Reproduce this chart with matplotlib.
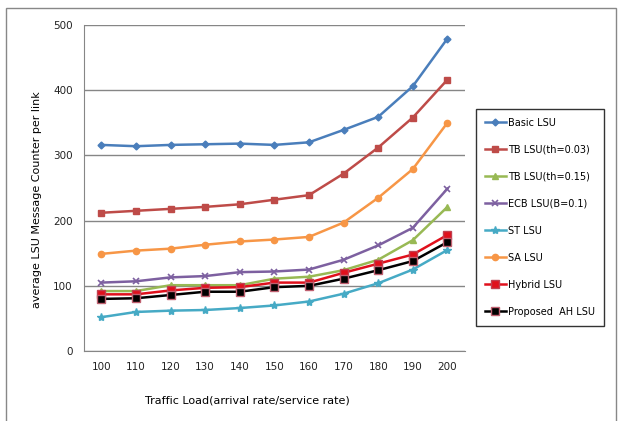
import matplotlib
import matplotlib.pyplot as plt
from matplotlib.patches import Rectangle

matplotlib.use('agg', force=True)

load = [100, 110, 120, 130, 140, 150, 160, 170, 180, 190, 200]

basic = [316, 314, 316, 317, 318, 316, 320, 339, 359, 406, 479]
tb_003 = [212, 215, 218, 221, 225, 232, 239, 272, 312, 358, 416]
tb_015 = [92, 92, 101, 101, 101, 111, 114, 124, 140, 170, 221]
ecb = [105, 107, 113, 115, 121, 122, 125, 140, 162, 189, 249]
st = [52, 60, 62, 63, 66, 70, 76, 88, 104, 125, 155]
sa = [149, 154, 157, 163, 168, 171, 175, 197, 235, 279, 350]
hybrid = [87, 87, 93, 97, 98, 105, 105, 120, 134, 148, 178]
proposed = [80, 81, 86, 91, 91, 98, 100, 111, 124, 138, 167]

labels = ["Basic LSU", "TB LSU(th=0.03)", "TB LSU(th=0.15)", "ECB LSU(B=0.1)",
          "ST LSU", "SA LSU", "Hybrid LSU", "Proposed  AH LSU"]

fig = plt.figure(figsize=(6.18, 4.21), dpi=100)
ax = fig.add_axes([0.136, 0.166, 0.616, 0.775])

fig.patches.append(Rectangle((6 / 618, -0.01), 610 / 618, 1 - 8 / 421 + 0.01,
                             transform=fig.transFigure, fill=False,
                             edgecolor="#888888", linewidth=1.0))

lw = 1.8
ax.plot(load, basic, color="#4A7EBB", marker="D", markersize=3.5, lw=lw, label=labels[0])
ax.plot(load, tb_003, color="#BE4B48", marker="s", markersize=5, lw=lw, label=labels[1])
ax.plot(load, tb_015, color="#98B954", marker="^", markersize=4, lw=lw, label=labels[2])
ax.plot(load, ecb, color="#7D60A0", marker="x", markersize=5, mew=1.2, lw=lw, label=labels[3])
ax.plot(load, st, color="#46AAC5", marker="*", markersize=6, lw=lw, label=labels[4])
ax.plot(load, sa, color="#F79646", marker="o", markersize=4.5, lw=lw, label=labels[5])
ax.plot(load, hybrid, color="#E0101C", marker="s", markersize=6, mec="#C04050", lw=lw, label=labels[6])
ax.plot(load, proposed, color="#000000", marker="s", markersize=6, mec="#C06070", lw=lw, label=labels[7])

ax.set_xlim(95, 205)
ax.set_ylim(0, 500)
ax.set_xticks(load)
ax.set_yticks([0, 100, 200, 300, 400, 500])
ax.yaxis.grid(True, color="#868686", linewidth=1.0)
ax.set_axisbelow(True)
for s in ["top", "right"]:
    ax.spines[s].set_visible(False)
ax.spines["left"].set_color("#868686")
ax.spines["bottom"].set_color("#868686")
ax.tick_params(length=0, labelsize=7.5, colors="#222222", pad=8)

ax.set_xlabel("Traffic Load(arrival rate/service rate)", fontsize=8)
ax.xaxis.set_label_coords(0.428, -0.135)
ax.set_ylabel("average LSU Message Counter per link", fontsize=8)
ax.yaxis.set_label_coords(-0.11, 0.463)

leg = fig.legend(loc="upper left", bbox_to_anchor=(476 / 618, 1 - 109 / 421),
                 fontsize=7, frameon=True, fancybox=False, handlelength=2.2,
                 handletextpad=0.2, labelspacing=1.75, borderpad=0.9,
                 borderaxespad=0)
leg.get_frame().set_edgecolor("black")
leg.get_frame().set_linewidth(1.0)

plt.savefig("out.png", dpi=100)
